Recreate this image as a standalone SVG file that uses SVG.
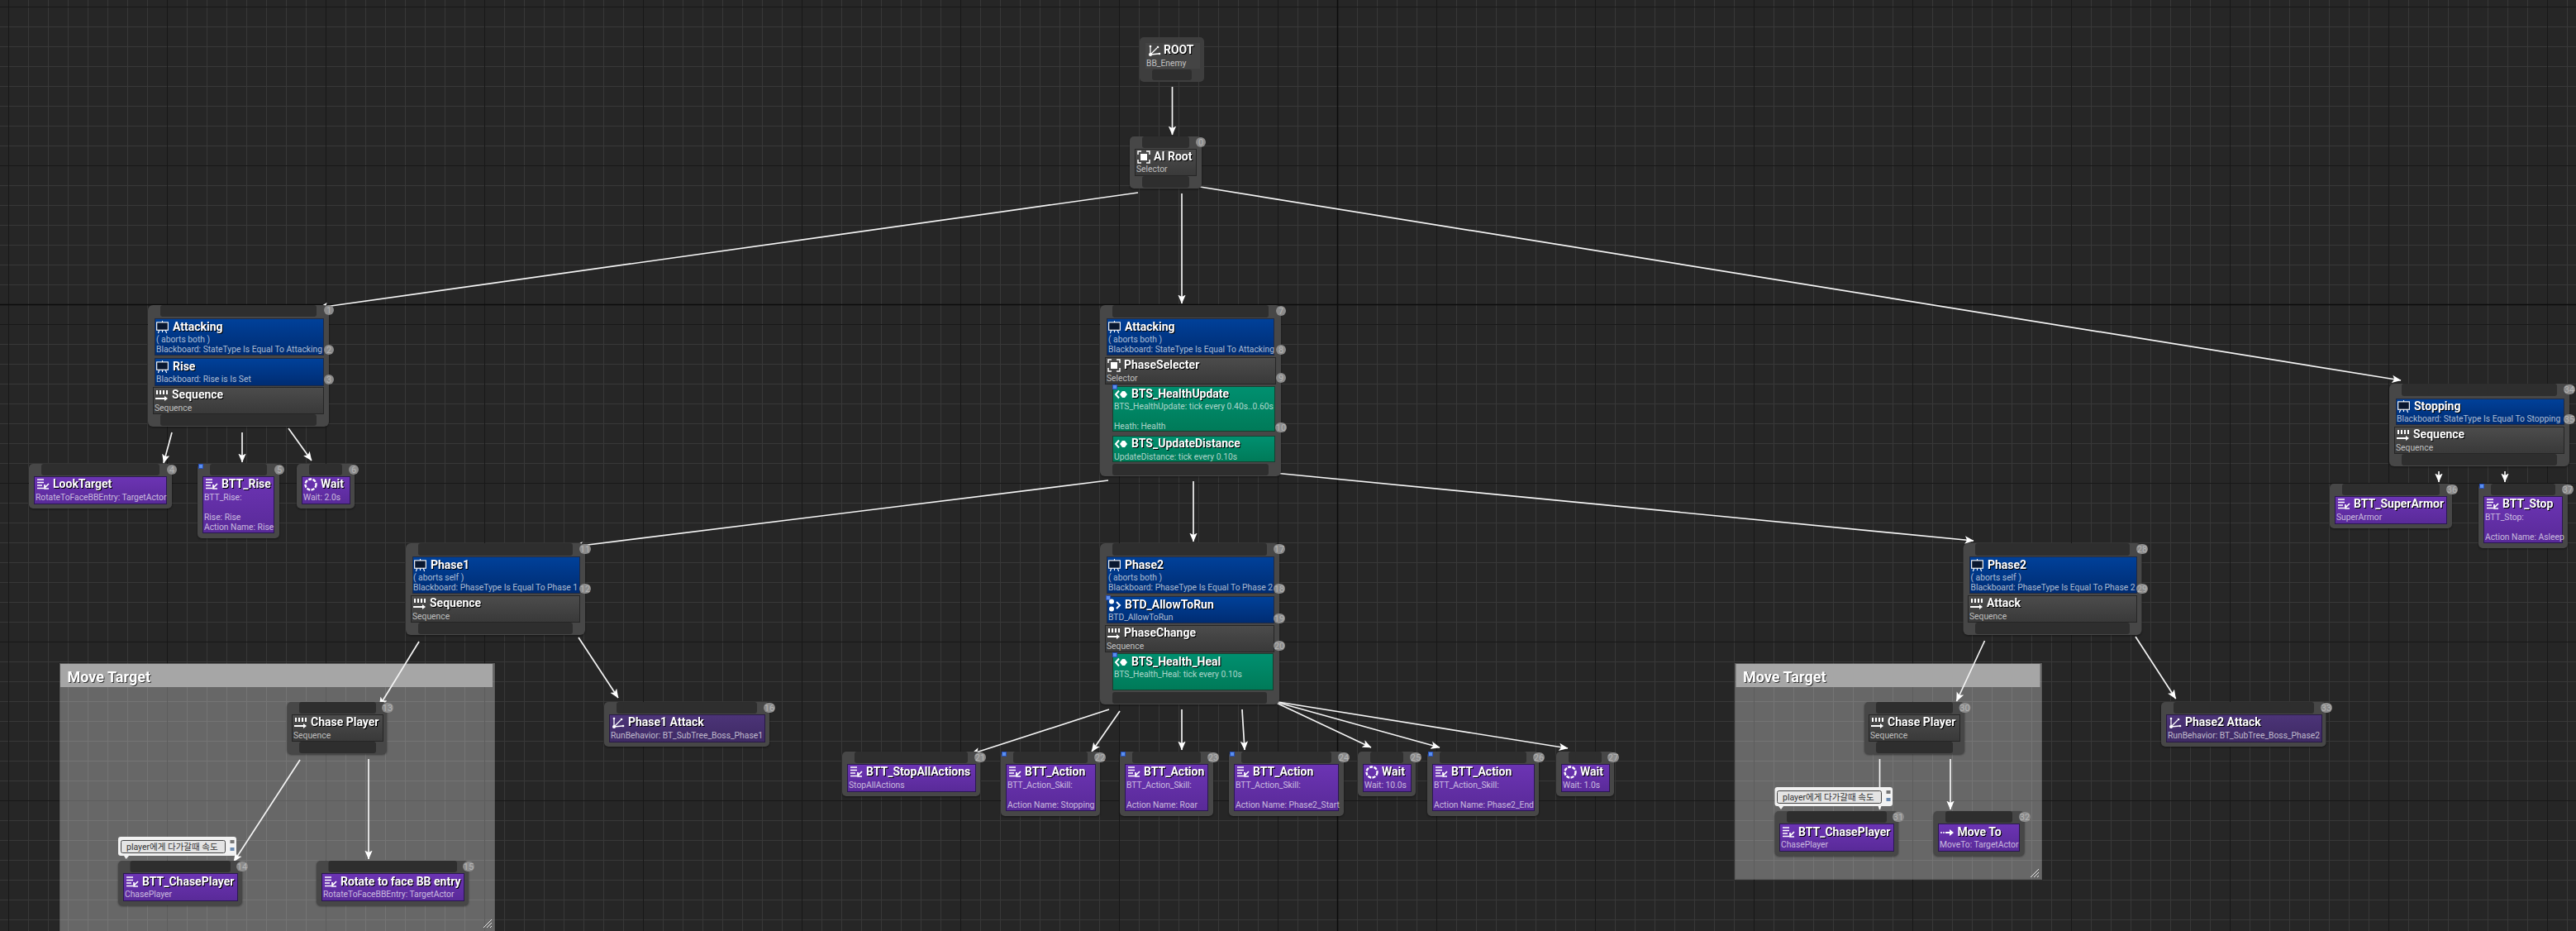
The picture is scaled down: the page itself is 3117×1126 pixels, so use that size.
<svg xmlns="http://www.w3.org/2000/svg" xmlns:xlink="http://www.w3.org/1999/xlink" width="3117" height="1126" viewBox="0 0 3117 1126">
<style>
text{font-family:Roboto,"Noto Sans CJK KR",sans-serif}
.n{fill:#474747;filter:drop-shadow(0 1px 1px rgba(0,0,0,.45))}
.s{fill:#2e2e2e}
.g{fill:url(#gg);stroke:#262626}
.b{fill:url(#gb);stroke:#1f2a44}
.p{fill:url(#gp);stroke:#2a1850}
.v{fill:url(#gv);stroke:#17402f}
.r{fill:url(#gr);stroke:#281a44}
.t{font-size:14px;font-weight:700;fill:#fff;filter:drop-shadow(1.5px 1.5px 0 #000)}
.d{font-size:10.3px;fill:#fff;fill-opacity:.68}
.c{fill:#8b8b8b}
.bt{font-size:11px;fill:#b4b4b4;text-anchor:middle}
.m{fill:#5a90ee;stroke:#2a50b8;stroke-width:1}
.e{stroke:#f4f4f4;stroke-width:1.7;fill:none;marker-end:url(#ah)}
.cb{fill:#fff;fill-opacity:.3;stroke:#000;stroke-opacity:.12;stroke-width:2}
.ch{fill:#a6a6a6}
.ct{font-size:18px;font-weight:700;fill:#fff;filter:drop-shadow(1px 1px 0 #333)}
.bo{fill:#f2f2f2}
.bi{fill:#e4e4e4;stroke:#444;stroke-width:1}
.bx{font-size:10.5px;fill:#333}
.gr{stroke:#e8e8e8;stroke-width:1}
</style>
<defs>
<linearGradient id="gg" x1="0" y1="0" x2="0" y2="1"><stop offset="0" stop-color="#4c4c4c"/><stop offset="1" stop-color="#393939"/></linearGradient>
<linearGradient id="gb" x1="0" y1="0" x2="0" y2="1"><stop offset="0" stop-color="#00419a"/><stop offset="1" stop-color="#002c72"/></linearGradient>
<linearGradient id="gp" x1="0" y1="0" x2="0" y2="1"><stop offset="0" stop-color="#6c34b4"/><stop offset="1" stop-color="#592a98"/></linearGradient>
<linearGradient id="gv" x1="0" y1="0" x2="0" y2="1"><stop offset="0" stop-color="#009070"/><stop offset="1" stop-color="#007a58"/></linearGradient>
<linearGradient id="gr" x1="0" y1="0" x2="0" y2="1"><stop offset="0" stop-color="#4c3478"/><stop offset="1" stop-color="#3e2a64"/></linearGradient>
<pattern id="grid" patternUnits="userSpaceOnUse" x="10" y="8" width="192" height="192">
<path d="M24.5 0V192M48.5 0V192M72.5 0V192M96.5 0V192M120.5 0V192M144.5 0V192M168.5 0V192M0 24.5H192M0 48.5H192M0 72.5H192M0 96.5H192M0 120.5H192M0 144.5H192M0 168.5H192" stroke="#383838" stroke-width="1" fill="none"/>
<path d="M.5 0V192M0 .5H192" stroke="#181818" stroke-width="1" fill="none"/>
</pattern>
<marker id="ah" markerUnits="userSpaceOnUse" viewBox="0 0 11 10" refX="10.5" refY="5" markerWidth="11" markerHeight="10" orient="auto"><path d="M0 .3L11 5L0 9.7L2.6 5Z" fill="#fff"/></marker>
<symbol id="i-root" viewBox="0 0 16 16" overflow="visible"><path d="M3 3V13L11 5M3 13L13 12" stroke="#fff" stroke-width="1.3" fill="none"/><circle cx="3" cy="13" r="2" fill="#fff"/><circle cx="3" cy="3" r="1.3" fill="#fff"/><circle cx="12" cy="4" r="1.3" fill="#fff"/><circle cx="14" cy="12" r="1.3" fill="#fff"/></symbol>
<symbol id="i-sel" viewBox="0 0 16 16" overflow="visible"><path d="M1 5V1H5M11 1H15V5M15 11V15H11M5 15H1V11" stroke="#fff" stroke-width="1.5" fill="none"/><rect x="4" y="4" width="8" height="8" fill="#fff"/></symbol>
<symbol id="i-seq" viewBox="0 0 16 16" overflow="visible"><path d="M2 2V7M6 2V7M10 2V7M14 2V7" stroke="#fff" stroke-width="2"/><path d="M0 12H12" stroke="#fff" stroke-width="2"/><path d="M11 9L15 12L11 15Z" fill="#fff"/></symbol>
<symbol id="i-bb" viewBox="0 0 16 16" overflow="visible"><rect x=".7" y="2" width="14.6" height="10" fill="#0a1830" stroke="#fff" stroke-width="1.2"/><path d="M8 0V2M4 12L2.5 16M12 12L13.5 16M8 12V15" stroke="#fff" stroke-width="1.2"/></symbol>
<symbol id="i-task" viewBox="0 0 16 16" overflow="visible"><path d="M1 2H9M1 5.5H9M1 9H7M1 12.5H9" stroke="#fff" stroke-width="1.4"/><path d="M15 7L10 12M10 8V13H15" stroke="#fff" stroke-width="1.7" fill="none"/></symbol>
<symbol id="i-wait" viewBox="0 0 16 16" overflow="visible"><circle cx="8" cy="8" r="6.5" fill="none" stroke="#fff" stroke-width="2.4" stroke-dasharray="4 1.4"/></symbol>
<symbol id="i-svc" viewBox="0 0 16 16" overflow="visible"><path d="M5 3.5L1 8L5 12.5" stroke="#fff" stroke-width="2" fill="none"/><path d="M6 8L9 4H12L15 8L12 12H9Z" fill="#fff"/></symbol>
<symbol id="i-dec" viewBox="0 0 16 16" overflow="visible"><circle cx="4" cy="3.5" r="3" fill="#fff"/><circle cx="4" cy="12.5" r="3" fill="#fff"/><path d="M10 4L14 8L10 12" stroke="#fff" stroke-width="2" fill="none"/></symbol>
<symbol id="i-move" viewBox="0 0 16 16" overflow="visible"><circle cx="1" cy="8" r="1" fill="#fff"/><circle cx="4" cy="8" r="1" fill="#fff"/><path d="M6 8H12" stroke="#fff" stroke-width="2"/><path d="M11 4L16 8L11 12Z" fill="#fff"/></symbol>
</defs>
<rect width="3117" height="1126" fill="#262626"/>
<rect width="3117" height="1126" fill="url(#grid)"/>
<path d="M1618.5 0V1126M0 368.5H3117" stroke="#0c0c0c" stroke-width="1.5"/>

<g id="comment-left"><rect class="cb" x="72" y="802" width="527" height="326"/><rect class="ch" x="73" y="803" width="523" height="28"/><text class="ct" x="81.5" y="825">Move Target</text><path class="gr" d="M585 1122L595 1112M589 1122L595 1116M593 1122L595 1120"/></g>
<g id="comment-right"><rect class="cb" x="2099" y="802" width="372" height="262"/><rect class="ch" x="2100.5" y="803" width="368" height="28"/><text class="ct" x="2109" y="825">Move Target</text><path class="gr" d="M2457 1061L2467 1051M2461 1061L2467 1055M2465 1061L2467 1059"/></g>

<g id="connectors">
<path class="e" d="M1418.5 105V163"/>
<path class="e" d="M1377 233L386 372"/>
<path class="e" d="M1430 234V367"/>
<path class="e" d="M1446 225L2905 460"/>
<path class="e" d="M208 523L198 560"/>
<path class="e" d="M293 523V559"/>
<path class="e" d="M349 518L377 557"/>
<path class="e" d="M1341 581L695 661"/>
<path class="e" d="M1444 582V655"/>
<path class="e" d="M1542 572L2388 654"/>
<path class="e" d="M507 776L459 854"/>
<path class="e" d="M700 771L748 844"/>
<path class="e" d="M363 919L283 1042"/>
<path class="e" d="M446 918V1039"/>
<path class="e" d="M1342 858L1175 912"/>
<path class="e" d="M1355 860L1321 909"/>
<path class="e" d="M1430 858V907"/>
<path class="e" d="M1503 858L1506 907"/>
<path class="e" d="M1540 848L1659 904"/>
<path class="e" d="M1540 848L1742 904"/>
<path class="e" d="M1540 848L1897 905"/>
<path class="e" d="M2401.5 775L2367.5 848"/>
<path class="e" d="M2584 770L2632.7 845"/>
<path class="e" d="M2274.5 918V979"/>
<path class="e" d="M2360 918V979"/>
<path class="e" d="M2951 570V583"/>
<path class="e" d="M3031 570V583"/>
</g>

<g id="n-root"><rect x="1379" y="45" width="78" height="54" rx="5" fill="#3e3e3e"/><rect x="1386" y="52" width="66" height="31" fill="#444"/><rect class="s" x="1394" y="84" width="48" height="13" rx="3"/><use href="#i-root" x="1389" y="53" width="16" height="16"/><text class="t" x="1408" y="65">ROOT</text><text class="d" x="1387" y="80">BB_Enemy</text></g>

<g id="n-airoot"><rect class="n" x="1367" y="165" width="87" height="63" rx="5"/><rect class="s" x="1382" y="165" width="57" height="14" rx="3"/><rect class="g" x="1373.5" y="180.5" width="74" height="32"/><rect class="s" x="1382" y="213" width="57" height="14" rx="3"/><use href="#i-sel" x="1376" y="182" width="16" height="16"/><text class="t" x="1396" y="194">AI Root</text><text class="d" x="1375" y="208">Selector</text><circle class="c" cx="1453" cy="172" r="6"/><text class="bt" x="1453" y="176">0</text></g>

<g id="n-attacking-left"><rect class="n" x="179" y="369" width="219" height="147" rx="6"/><rect class="s" x="194" y="369" width="189" height="14" rx="3"/><rect class="b" x="187.5" y="385.5" width="204" height="44"/><rect class="b" x="187.5" y="433.5" width="204" height="33"/><rect class="g" x="185.5" y="468.5" width="206" height="32"/><rect class="s" x="194" y="501" width="189" height="14" rx="3"/><use href="#i-bb" x="189" y="388" width="15" height="15"/><text class="t" x="209" y="400">Attacking</text><text class="d" x="189" y="414">( aborts both )</text><text class="d" x="189" y="426">Blackboard: StateType Is Equal To Attacking</text><use href="#i-bb" x="189" y="436" width="15" height="15"/><text class="t" x="209" y="448">Rise</text><text class="d" x="189" y="462">Blackboard: Rise is Is Set</text><use href="#i-seq" x="188" y="470" width="16" height="16"/><text class="t" x="208" y="482">Sequence</text><text class="d" x="187" y="497">Sequence</text><circle class="c" cx="398" cy="375" r="6"/><text class="bt" x="398" y="379">1</text><circle class="c" cx="398" cy="423" r="6"/><text class="bt" x="398" y="427">2</text><circle class="c" cx="398" cy="459" r="6"/><text class="bt" x="398" y="463">3</text></g>

<g id="n-looktarget"><rect class="n" x="35" y="561" width="173" height="54" rx="5"/><rect class="s" x="50" y="561" width="143" height="14" rx="3"/><rect class="p" x="41.5" y="576.5" width="160" height="33"/><use href="#i-task" x="44" y="578" width="16" height="16"/><text class="t" x="64" y="590">LookTarget</text><text class="d" x="43" y="605">RotateToFaceBBEntry: TargetActor</text><circle class="c" cx="208" cy="568" r="6"/><text class="bt" x="208" y="572">4</text></g>

<g id="n-btt-rise"><rect class="n" x="239" y="561" width="99" height="90" rx="5"/><rect class="s" x="254" y="561" width="69" height="14" rx="3"/><rect class="p" x="245.5" y="576.5" width="86" height="68"/><rect class="m" x="240.5" y="561.5" width="5" height="5"/><use href="#i-task" x="248" y="578" width="16" height="16"/><text class="t" x="268" y="590">BTT_Rise</text><text class="d" x="247" y="605">BTT_Rise:</text><text class="d" x="247" y="629">Rise: Rise</text><text class="d" x="247" y="641">Action Name: Rise</text><circle class="c" cx="338" cy="568" r="6"/><text class="bt" x="338" y="572">5</text></g>

<g id="n-wait-2"><rect class="n" x="359" y="561" width="70" height="54" rx="5"/><rect class="s" x="374" y="561" width="40" height="14" rx="3"/><rect class="p" x="365.5" y="576.5" width="58" height="33"/><use href="#i-wait" x="368" y="578" width="16" height="16"/><text class="t" x="388" y="590">Wait</text><text class="d" x="367" y="605">Wait: 2.0s</text><circle class="c" cx="428" cy="568" r="6"/><text class="bt" x="428" y="572">6</text></g>

<g id="n-attacking-center"><rect class="n" x="1331" y="369" width="219" height="207" rx="6"/><rect class="s" x="1346" y="369" width="189" height="15" rx="3"/><rect class="b" x="1339.5" y="385.5" width="202" height="44"/><rect class="g" x="1337.5" y="432.5" width="206" height="32"/><rect class="v" x="1346.5" y="467.5" width="196" height="54"/><rect class="v" x="1346.5" y="527.5" width="196" height="31"/><rect class="s" x="1346" y="561" width="189" height="14" rx="3"/><rect class="m" x="1346.5" y="465.5" width="5" height="5"/><use href="#i-bb" x="1341" y="388" width="15" height="15"/><text class="t" x="1361" y="400">Attacking</text><text class="d" x="1341" y="414">( aborts both )</text><text class="d" x="1341" y="426">Blackboard: StateType Is Equal To Attacking</text><use href="#i-sel" x="1340" y="434" width="16" height="16"/><text class="t" x="1360" y="446">PhaseSelecter</text><text class="d" x="1339" y="461">Selector</text><use href="#i-svc" x="1349" y="469" width="16" height="16"/><text class="t" x="1369" y="481">BTS_HealthUpdate</text><text class="d" x="1348" y="495">BTS_HealthUpdate: tick every 0.40s..0.60s</text><text class="d" x="1348" y="519">Heath: Health</text><use href="#i-svc" x="1349" y="529" width="16" height="16"/><text class="t" x="1369" y="541">BTS_UpdateDistance</text><text class="d" x="1348" y="556">UpdateDistance: tick every 0.10s</text><circle class="c" cx="1550" cy="376" r="6"/><text class="bt" x="1550" y="380">7</text><circle class="c" cx="1550" cy="423" r="6"/><text class="bt" x="1550" y="427">8</text><circle class="c" cx="1550" cy="457" r="6"/><text class="bt" x="1550" y="461">9</text><rect class="c" x="1543" y="511" width="14" height="12" rx="6"/><text class="bt" x="1550" y="521">10</text></g>

<g id="n-phase1"><rect class="n" x="491" y="657" width="217" height="111" rx="6"/><rect class="s" x="506" y="657" width="187" height="15" rx="3"/><rect class="b" x="499.5" y="673.5" width="202" height="44"/><rect class="g" x="497.5" y="720.5" width="204" height="32"/><rect class="s" x="506" y="753" width="187" height="14" rx="3"/><use href="#i-bb" x="501" y="676" width="15" height="15"/><text class="t" x="521" y="688">Phase1</text><text class="d" x="500" y="702">( aborts self )</text><text class="d" x="500" y="714">Blackboard: PhaseType Is Equal To Phase 1</text><use href="#i-seq" x="500" y="722" width="16" height="16"/><text class="t" x="520" y="734">Sequence</text><text class="d" x="499" y="749">Sequence</text><rect class="c" x="701" y="658" width="14" height="12" rx="6"/><text class="bt" x="708" y="668">11</text><rect class="c" x="701" y="706" width="14" height="12" rx="6"/><text class="bt" x="708" y="716">12</text></g>

<g id="n-phase1-attack"><rect class="n" x="731" y="849" width="200" height="54" rx="5"/><rect class="s" x="746" y="849" width="170" height="14" rx="3"/><rect class="r" x="737.5" y="864.5" width="188" height="33"/><use href="#i-root" x="740" y="866" width="16" height="16"/><text class="t" x="760" y="878">Phase1 Attack</text><text class="d" x="739" y="893">RunBehavior: BT_SubTree_Boss_Phase1</text><rect class="c" x="924" y="850" width="14" height="12" rx="6"/><text class="bt" x="931" y="860">16</text></g>

<g id="n-chase-left"><rect class="n" x="347.5" y="849" width="120.5" height="63" rx="5"/><rect class="s" x="362" y="849" width="93" height="14" rx="3"/><rect class="g" x="353.5" y="864.5" width="110" height="32"/><rect class="s" x="362" y="897" width="93" height="14" rx="3"/><use href="#i-seq" x="356" y="866" width="16" height="16"/><text class="t" x="376" y="878">Chase Player</text><text class="d" x="355" y="893">Sequence</text><rect class="c" x="462" y="850" width="14" height="12" rx="6"/><text class="bt" x="469" y="860">13</text></g>

<g id="n-chase-task-left"><rect class="n" x="143" y="1041" width="150" height="54" rx="5"/><rect class="s" x="157.5" y="1041" width="121.5" height="14" rx="3"/><rect class="p" x="149.5" y="1056.5" width="138" height="33"/><use href="#i-task" x="152" y="1059" width="16" height="16"/><text class="t" x="172" y="1071">BTT_ChasePlayer</text><text class="d" x="151" y="1085">ChasePlayer</text><rect class="c" x="286" y="1042" width="14" height="12" rx="6"/><text class="bt" x="293" y="1052">14</text><g id="bubble-left"><path class="bo" d="M150 1035H156L152.500 1039Z"/><rect class="bo" x="143" y="1012" width="143" height="23" rx="3"/><rect class="bi" x="146.500" y="1016.500" width="126" height="15" rx="2"/><text class="bx" x="153" y="1027.500">player에게 다가갈때 속도</text><rect x="278.500" y="1016" width="5" height="4" fill="#777"/><rect x="278.500" y="1025" width="5" height="4" fill="#6a8ab0"/></g></g>

<g id="n-rotate"><rect class="n" x="383" y="1041" width="184" height="54" rx="5"/><rect class="s" x="397.5" y="1041" width="155.500" height="14" rx="3"/><rect class="p" x="389.5" y="1056.5" width="172" height="33"/><use href="#i-task" x="392" y="1059" width="16" height="16"/><text class="t" x="412" y="1071">Rotate to face BB entry</text><text class="d" x="391" y="1085">RotateToFaceBBEntry: TargetActor</text><rect class="c" x="560" y="1042" width="14" height="12" rx="6"/><text class="bt" x="567" y="1052">15</text></g>

<g id="n-phase2-center"><rect class="n" x="1331" y="657" width="217" height="195" rx="6"/><rect class="s" x="1346" y="657" width="187" height="15" rx="3"/><rect class="b" x="1339.5" y="673.5" width="202" height="44"/><rect class="b" x="1339.5" y="721.5" width="202" height="32"/><rect class="g" x="1337.5" y="756.5" width="204" height="32"/><rect class="v" x="1346.5" y="790.5" width="194" height="44"/><rect class="s" x="1346" y="837" width="187" height="14" rx="3"/><rect class="m" x="1338.5" y="720.5" width="5" height="5"/><rect class="m" x="1346.5" y="789.5" width="5" height="5"/><use href="#i-bb" x="1341" y="676" width="15" height="15"/><text class="t" x="1361" y="688">Phase2</text><text class="d" x="1341" y="702">( aborts both )</text><text class="d" x="1341" y="714">Blackboard: PhaseType Is Equal To Phase 2</text><use href="#i-dec" x="1341" y="724" width="16" height="16"/><text class="t" x="1361" y="736">BTD_AllowToRun</text><text class="d" x="1341" y="750">BTD_AllowToRun</text><use href="#i-seq" x="1340" y="758" width="16" height="16"/><text class="t" x="1360" y="770">PhaseChange</text><text class="d" x="1339" y="785">Sequence</text><use href="#i-svc" x="1349" y="793" width="16" height="16"/><text class="t" x="1369" y="805">BTS_Health_Heal</text><text class="d" x="1348" y="819">BTS_Health_Heal: tick every 0.10s</text><rect class="c" x="1541" y="658" width="14" height="12" rx="6"/><text class="bt" x="1548" y="668">17</text><rect class="c" x="1541" y="706" width="14" height="12" rx="6"/><text class="bt" x="1548" y="716">18</text><rect class="c" x="1541" y="742" width="14" height="12" rx="6"/><text class="bt" x="1548" y="752">19</text><rect class="c" x="1541" y="775" width="14" height="12" rx="6"/><text class="bt" x="1548" y="785">20</text></g>

<g id="n-stopall"><rect class="n" x="1019" y="909" width="167" height="54" rx="5"/><rect class="s" x="1034" y="909" width="137" height="14" rx="3"/><rect class="p" x="1025.5" y="924.5" width="155" height="33"/><use href="#i-task" x="1028" y="926" width="16" height="16"/><text class="t" x="1048" y="938">BTT_StopAllActions</text><text class="d" x="1027" y="953">StopAllActions</text><rect class="c" x="1179" y="910" width="14" height="12" rx="6"/><text class="bt" x="1186" y="920">21</text></g>

<g id="n-action-stopping"><rect class="n" x="1211" y="909" width="120" height="78" rx="5"/><rect class="s" x="1226" y="909" width="90" height="14" rx="3"/><rect class="p" x="1217.5" y="924.5" width="108" height="56"/><rect class="m" x="1212.5" y="909.5" width="5" height="5"/><use href="#i-task" x="1220" y="926" width="16" height="16"/><text class="t" x="1240" y="938">BTT_Action</text><text class="d" x="1219" y="953">BTT_Action_Skill:</text><text class="d" x="1219" y="977">Action Name: Stopping</text><rect class="c" x="1324" y="910" width="14" height="12" rx="6"/><text class="bt" x="1331" y="920">22</text></g>

<g id="n-action-roar"><rect class="n" x="1355" y="909" width="113" height="78" rx="5"/><rect class="s" x="1370" y="909" width="83" height="14" rx="3"/><rect class="p" x="1361.5" y="924.5" width="100" height="56"/><rect class="m" x="1356.5" y="909.5" width="5" height="5"/><use href="#i-task" x="1364" y="926" width="16" height="16"/><text class="t" x="1384" y="938">BTT_Action</text><text class="d" x="1363" y="953">BTT_Action_Skill:</text><text class="d" x="1363" y="977">Action Name: Roar</text><rect class="c" x="1461" y="910" width="14" height="12" rx="6"/><text class="bt" x="1468" y="920">23</text></g>

<g id="n-action-start"><rect class="n" x="1487" y="909" width="139" height="78" rx="5"/><rect class="s" x="1502" y="909" width="109" height="14" rx="3"/><rect class="p" x="1493.5" y="924.5" width="126" height="56"/><rect class="m" x="1488.5" y="909.5" width="5" height="5"/><use href="#i-task" x="1496" y="926" width="16" height="16"/><text class="t" x="1516" y="938">BTT_Action</text><text class="d" x="1495" y="953">BTT_Action_Skill:</text><text class="d" x="1495" y="977">Action Name: Phase2_Start</text><rect class="c" x="1619" y="910" width="14" height="12" rx="6"/><text class="bt" x="1626" y="920">24</text></g>

<g id="n-wait-10"><rect class="n" x="1643" y="909" width="70" height="54" rx="5"/><rect class="s" x="1658" y="909" width="40" height="14" rx="3"/><rect class="p" x="1649.5" y="924.5" width="58" height="33"/><use href="#i-wait" x="1652" y="926" width="16" height="16"/><text class="t" x="1672" y="938">Wait</text><text class="d" x="1651" y="953">Wait: 10.0s</text><rect class="c" x="1706" y="910" width="14" height="12" rx="6"/><text class="bt" x="1713" y="920">25</text></g>

<g id="n-action-end"><rect class="n" x="1727" y="909" width="135" height="78" rx="5"/><rect class="s" x="1742" y="909" width="105" height="14" rx="3"/><rect class="p" x="1733.5" y="924.5" width="123" height="56"/><rect class="m" x="1728.5" y="909.5" width="5" height="5"/><use href="#i-task" x="1736" y="926" width="16" height="16"/><text class="t" x="1756" y="938">BTT_Action</text><text class="d" x="1735" y="953">BTT_Action_Skill:</text><text class="d" x="1735" y="977">Action Name: Phase2_End</text><rect class="c" x="1855" y="910" width="14" height="12" rx="6"/><text class="bt" x="1862" y="920">26</text></g>

<g id="n-wait-1"><rect class="n" x="1883" y="909" width="70" height="54" rx="5"/><rect class="s" x="1898" y="909" width="40" height="14" rx="3"/><rect class="p" x="1889.5" y="924.5" width="58" height="33"/><use href="#i-wait" x="1892" y="926" width="16" height="16"/><text class="t" x="1912" y="938">Wait</text><text class="d" x="1891" y="953">Wait: 1.0s</text><rect class="c" x="1945" y="910" width="14" height="12" rx="6"/><text class="bt" x="1952" y="920">27</text></g>

<g id="n-phase2-right"><rect class="n" x="2375.5" y="657" width="216" height="111" rx="6"/><rect class="s" x="2390" y="657" width="187" height="15" rx="3"/><rect class="b" x="2383.5" y="673.5" width="202" height="44"/><rect class="g" x="2381.5" y="720.5" width="204" height="32"/><rect class="s" x="2390" y="753" width="187" height="14" rx="3"/><use href="#i-bb" x="2385" y="676" width="15" height="15"/><text class="t" x="2405" y="688">Phase2</text><text class="d" x="2384.5" y="702">( aborts self )</text><text class="d" x="2384.5" y="714">Blackboard: PhaseType Is Equal To Phase 2</text><use href="#i-seq" x="2384" y="722" width="16" height="16"/><text class="t" x="2404" y="734">Attack</text><text class="d" x="2383" y="749">Sequence</text><rect class="c" x="2585" y="658" width="14" height="12" rx="6"/><text class="bt" x="2592" y="668">28</text><rect class="c" x="2585" y="706" width="14" height="12" rx="6"/><text class="bt" x="2592" y="716">29</text></g>

<g id="n-chase-right"><rect class="n" x="2256" y="849" width="121" height="63" rx="5"/><rect class="s" x="2270" y="849" width="93" height="14" rx="3"/><rect class="g" x="2261.5" y="864.5" width="110" height="32"/><rect class="s" x="2270" y="897" width="93" height="14" rx="3"/><use href="#i-seq" x="2264" y="866" width="16" height="16"/><text class="t" x="2284" y="878">Chase Player</text><text class="d" x="2263" y="893">Sequence</text><rect class="c" x="2370.5" y="850" width="14" height="12" rx="6"/><text class="bt" x="2377.5" y="860">30</text></g>

<g id="n-chase-task-right"><rect class="n" x="2147.5" y="981" width="149.5" height="54" rx="5"/><rect class="s" x="2162" y="981" width="121" height="14" rx="3"/><rect class="p" x="2153.5" y="996.5" width="138" height="33"/><use href="#i-task" x="2156" y="999" width="16" height="16"/><text class="t" x="2176" y="1011">BTT_ChasePlayer</text><text class="d" x="2155" y="1025">ChasePlayer</text><rect class="c" x="2290" y="982" width="14" height="12" rx="6"/><text class="bt" x="2297" y="992">31</text><g id="bubble-right"><path class="bo" d="M2152 975H2158L2155 979Z"/><rect class="bo" x="2147.5" y="952" width="142.5" height="23" rx="3"/><rect class="bi" x="2150.500" y="956.500" width="126" height="15" rx="2"/><text class="bx" x="2157" y="967.500">player에게 다가갈때 속도</text><rect x="2282.500" y="956" width="5" height="4" fill="#777"/><rect x="2282.500" y="965" width="5" height="4" fill="#6a8ab0"/></g></g>

<g id="n-moveto"><rect class="n" x="2339.5" y="981" width="110" height="54" rx="5"/><rect class="s" x="2354" y="981" width="81" height="14" rx="3"/><rect class="p" x="2345.5" y="996.5" width="98" height="33"/><use href="#i-move" x="2348" y="999" width="16" height="16"/><text class="t" x="2368.500" y="1011">Move To</text><text class="d" x="2347" y="1025">MoveTo: TargetActor</text><rect class="c" x="2443" y="982" width="14" height="12" rx="6"/><text class="bt" x="2450" y="992">32</text></g>

<g id="n-phase2-attack"><rect class="n" x="2615" y="849" width="199.5" height="54" rx="5"/><rect class="s" x="2630" y="849" width="170" height="14" rx="3"/><rect class="r" x="2621.5" y="864.5" width="188" height="33"/><use href="#i-root" x="2624" y="866" width="16" height="16"/><text class="t" x="2644" y="878">Phase2 Attack</text><text class="d" x="2623" y="893">RunBehavior: BT_SubTree_Boss_Phase2</text><rect class="c" x="2808" y="850" width="14" height="12" rx="6"/><text class="bt" x="2815" y="860">33</text></g>

<g id="n-stopping"><rect class="n" x="2891" y="464" width="218" height="100" rx="6"/><rect class="s" x="2906" y="464" width="188" height="15" rx="3"/><rect class="b" x="2899.5" y="482.5" width="203" height="31"/><rect class="g" x="2897.5" y="516.5" width="205" height="32"/><rect class="s" x="2906" y="549" width="188" height="14" rx="3"/><use href="#i-bb" x="2901" y="484" width="15" height="15"/><text class="t" x="2921" y="496">Stopping</text><text class="d" x="2900" y="510">Blackboard: StateType Is Equal To Stopping</text><use href="#i-seq" x="2900" y="518" width="16" height="16"/><text class="t" x="2920" y="530">Sequence</text><text class="d" x="2899" y="545">Sequence</text><rect class="c" x="3102" y="465" width="14" height="12" rx="6"/><text class="bt" x="3109" y="475">34</text><rect class="c" x="3102" y="501" width="14" height="12" rx="6"/><text class="bt" x="3109" y="511">35</text></g>

<g id="n-superarmor"><rect class="n" x="2819" y="585" width="148" height="54" rx="5"/><rect class="s" x="2834" y="585" width="118" height="14" rx="3"/><rect class="p" x="2825.5" y="600.5" width="135" height="33"/><use href="#i-task" x="2828" y="602" width="16" height="16"/><text class="t" x="2848" y="614">BTT_SuperArmor</text><text class="d" x="2827" y="629">SuperArmor</text><rect class="c" x="2960" y="586" width="14" height="12" rx="6"/><text class="bt" x="2967" y="596">36</text></g>

<g id="n-btt-stop"><rect class="n" x="2999" y="585" width="108" height="78" rx="5"/><rect class="s" x="3014" y="585" width="78" height="14" rx="3"/><rect class="p" x="3005.5" y="600.5" width="95" height="56"/><rect class="m" x="3000.5" y="585.5" width="5" height="5"/><use href="#i-task" x="3008" y="602" width="16" height="16"/><text class="t" x="3028" y="614">BTT_Stop</text><text class="d" x="3007" y="629">BTT_Stop:</text><text class="d" x="3007" y="653">Action Name: Asleep</text><rect class="c" x="3100" y="586" width="14" height="12" rx="6"/><text class="bt" x="3107" y="596">37</text></g>
</svg>
